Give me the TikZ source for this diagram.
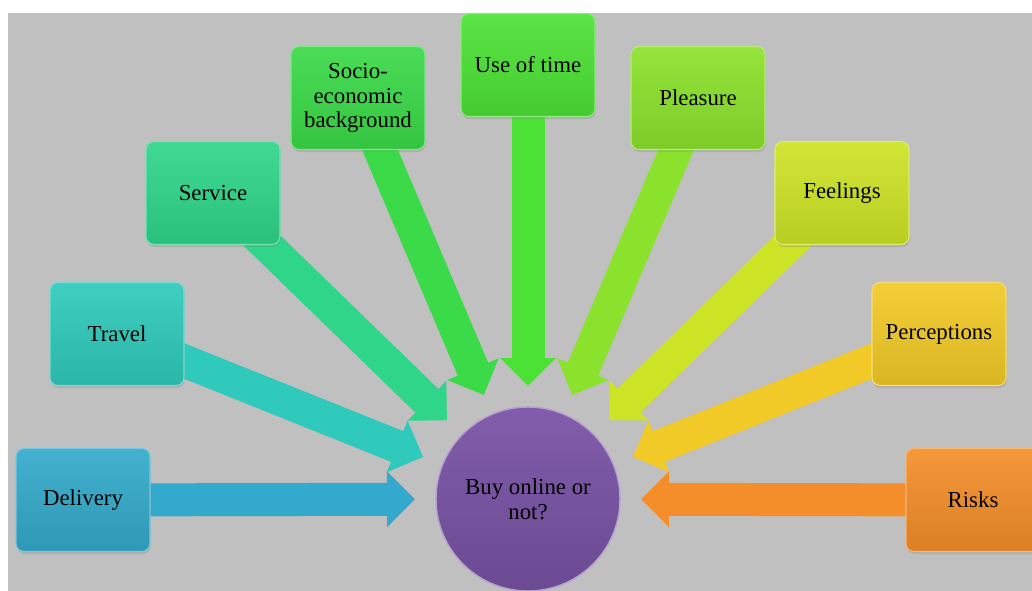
\documentclass[tikz,border=0pt]{standalone}
\usepackage{fontspec}
\setmainfont{Liberation Serif}
\usetikzlibrary{arrows.meta,calc,shadows,backgrounds}

\definecolor{slideGray}{HTML}{C0C0C0}
\definecolor{cDelivery}{HTML}{33AACB}
\definecolor{cTravel}{HTML}{2FCABB}
\definecolor{cService}{HTML}{2FD68A}
\definecolor{cSocio}{HTML}{3BDA48}
\definecolor{cTime}{HTML}{4DE236}
\definecolor{cPleasure}{HTML}{8BE22C}
\definecolor{cFeelings}{HTML}{CDE426}
\definecolor{cPercept}{HTML}{F2CA27}
\definecolor{cRisks}{HTML}{F48E2A}
\definecolor{cHub}{HTML}{7A54A6}

\begin{document}
\begin{tikzpicture}[x=0.02cm, y=-0.02cm,
    factor/.style={rounded corners=1.6mm, align=center,
                   font=\fontsize{13}{14}\selectfont,
                   minimum width=2.68cm, minimum height=2.06cm,
                   top color=#1!92!white, bottom color=#1!90!black,
                   draw=#1!65!white, line width=0.6pt,
                   drop shadow={opacity=0.25, shadow xshift=0.5pt, shadow yshift=-1.5pt}},
    feed/.style={draw=#1, line width=0.66cm,
                 -{Triangle[width=1.08cm, length=0.56cm]}}]
  \useasboundingbox (0,0) rectangle (1032,591);
  % the ten parts
  \node[factor=cDelivery] (delivery) at (83,500) {Delivery};
  \node[factor=cTravel] (travel) at (117,334) {Travel};
  \node[factor=cService] (service) at (213,193) {Service};
  \node[factor=cSocio] (socio) at (358,98) {Socio-\\economic\\background};
  \node[factor=cTime] (time) at (528,65) {Use of time};
  \node[factor=cPleasure] (pleasure) at (698,98) {Pleasure};
  \node[factor=cFeelings] (feelings) at (842,193) {Feelings};
  \node[factor=cPercept] (percept) at (939,334) {Perceptions};
  \node[factor=cRisks] (risks) at (973,500) {Risks};
  \node[circle, minimum size=3.68cm, align=center,
        font=\fontsize{13}{14}\selectfont,
        top color=cHub!95!white, bottom color=cHub!88!black,
        draw=cHub!55!white, line width=0.8pt] (hub) at (528,499) {Buy online or\\not?};
  \begin{pgfonlayer}{background}
    \fill[slideGray] (8,13) rectangle (1032,591);
    \draw[feed=cDelivery] (delivery.center) -- ($(hub.center)!2.26cm!(delivery.center)$);
    \draw[feed=cTravel] (travel.center) -- ($(hub.center)!2.26cm!(travel.center)$);
    \draw[feed=cService] (service.center) -- ($(hub.center)!2.26cm!(service.center)$);
    \draw[feed=cSocio] (socio.center) -- ($(hub.center)!2.26cm!(socio.center)$);
    \draw[feed=cTime] (time.center) -- ($(hub.center)!2.26cm!(time.center)$);
    \draw[feed=cPleasure] (pleasure.center) -- ($(hub.center)!2.26cm!(pleasure.center)$);
    \draw[feed=cFeelings] (feelings.center) -- ($(hub.center)!2.26cm!(feelings.center)$);
    \draw[feed=cPercept] (percept.center) -- ($(hub.center)!2.26cm!(percept.center)$);
    \draw[feed=cRisks] (risks.center) -- ($(hub.center)!2.26cm!(risks.center)$);
  \end{pgfonlayer}
\end{tikzpicture}
\end{document}
